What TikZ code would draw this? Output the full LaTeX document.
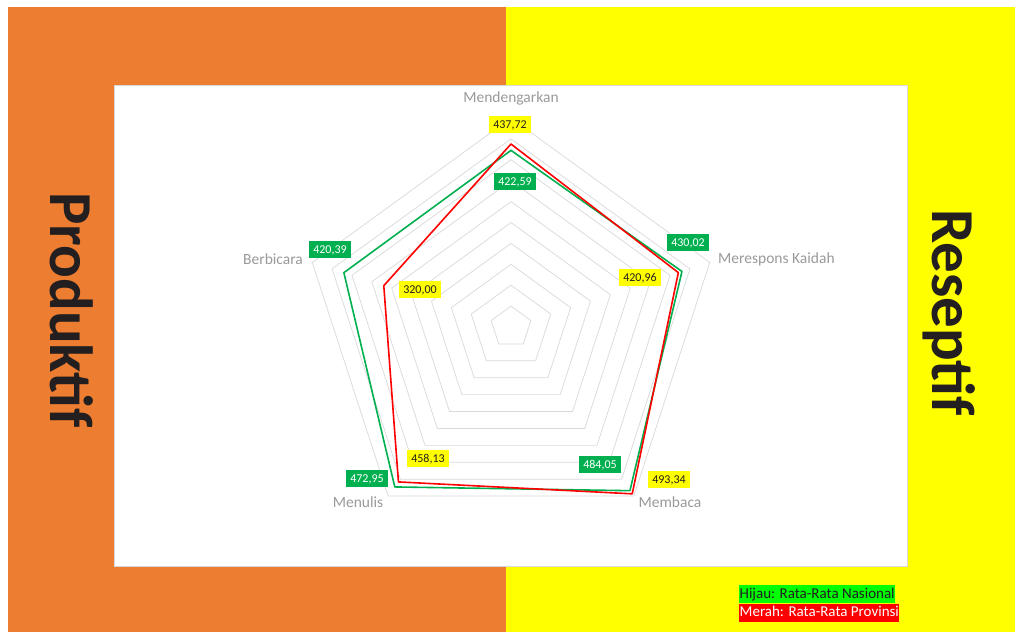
\documentclass[tikz,border=0pt]{standalone}
\usepackage{fontspec}
\setmainfont{Carlito}
\definecolor{prodorange}{HTML}{ED7D31}
\definecolor{resyellow}{HTML}{FFFF00}
\definecolor{gridgray}{HTML}{D9D9D9}
\definecolor{axisgray}{HTML}{9A9A9A}
\definecolor{natgreen}{HTML}{00B050}
\definecolor{provred}{HTML}{FF0000}
\definecolor{darktext}{HTML}{231F20}
\definecolor{legendgreen}{HTML}{00FF00}
\newcommand{\radscale}{0.418}
\tikzset{
  axislabel/.style={text=axisgray, inner sep=0, font=\fontsize{15.5}{18}\selectfont},
  valbox/.style={inner xsep=4pt, inner ysep=0, minimum height=17pt, text height=8.5pt, text depth=2pt, font=\fontsize{12}{14}\selectfont},
  greenval/.style={valbox, fill=natgreen, text=white},
  yellowval/.style={valbox, fill=resyellow, text=darktext},
  sidetitle/.style={rotate=-90, anchor=base west, inner sep=0, text=darktext, font=\fontsize{61}{70}\selectfont\bfseries},
  legendbox/.style={anchor=west, inner xsep=0.5pt, inner ysep=0, minimum height=18pt, text height=11pt, text depth=3.5pt, font=\fontsize{15}{18}\selectfont},
  series/.style={line width=1.6pt, line join=round}
}
\begin{document}
\begin{tikzpicture}[x=1pt, y=1pt]
\useasboundingbox (0,0) rectangle (1015,632);
\fill [white] (0,0) rectangle (1015,632);
\fill [prodorange] (8,0) rectangle (506,625);
\fill [resyellow] (506,0) rectangle (1015,625);
\draw [gridgray, fill=white] (114,66) rectangle (907,547);
% rings and series
\begin{scope}[shift={(511,305)}]
\foreach \v in {50,100,...,500}
  \draw [gridgray, line width=0.7pt] (90:{\v*\radscale}) -- (18:{\v*\radscale}) -- (-54:{\v*\radscale}) -- (-126:{\v*\radscale}) -- (162:{\v*\radscale}) -- cycle;
\draw [series, natgreen] (90:{422.59*\radscale}) -- (18:{430.02*\radscale}) -- (-54:{484.05*\radscale}) -- (-126:{472.95*\radscale}) -- (162:{420.39*\radscale}) -- cycle;
\draw [series, provred] (90:{437.72*\radscale}) -- (18:{420.96*\radscale}) -- (-54:{493.34*\radscale}) -- (-126:{458.13*\radscale}) -- (162:{320.00*\radscale}) -- cycle;
\end{scope}
% axis labels
\node [axislabel] (mendengarkan) at (511,534) {Mendengarkan};
\node [axislabel, anchor=west] (merespons) at (718,373) {Merespons Kaidah};
\node [axislabel] (membaca) at (670,130) {Membaca};
\node [axislabel] (menulis) at (358,130) {Menulis};
\node [axislabel, anchor=east] (berbicara) at (303,373) {Berbicara};
% data labels
\node [yellowval] (provmend) at (510,507) {437,72};
\node [greenval] (natmend) at (515,450) {422,59};
\node [greenval] (natbicara) at (330,382) {420,39};
\node [greenval] (natrespon) at (688,389) {430,02};
\node [yellowval] (provbicara) at (420,342) {320,00};
\node [yellowval] (provrespon) at (640,354) {420,96};
\node [yellowval] (provtulis) at (428,173) {458,13};
\node [greenval] (nattulis) at (367,153) {472,95};
\node [greenval] (natbaca) at (600,167) {484,05};
\node [yellowval] (provbaca) at (669,152) {493,34};
% side titles
\node [sidetitle] (produktif) at (50,440) {Produktif};
\node [sidetitle] (reseptif) at (932,423) {Reseptif};
% legend
\node [legendbox, fill=legendgreen, text=darktext] (legendnat) at (739,37.5) {Hijau: Rata-Rata Nasional};
\node [legendbox, fill=provred, text=white, anchor=north west] (legendprov) at (legendnat.south west) {Merah: Rata-Rata Provinsi};
\end{tikzpicture}
\end{document}
